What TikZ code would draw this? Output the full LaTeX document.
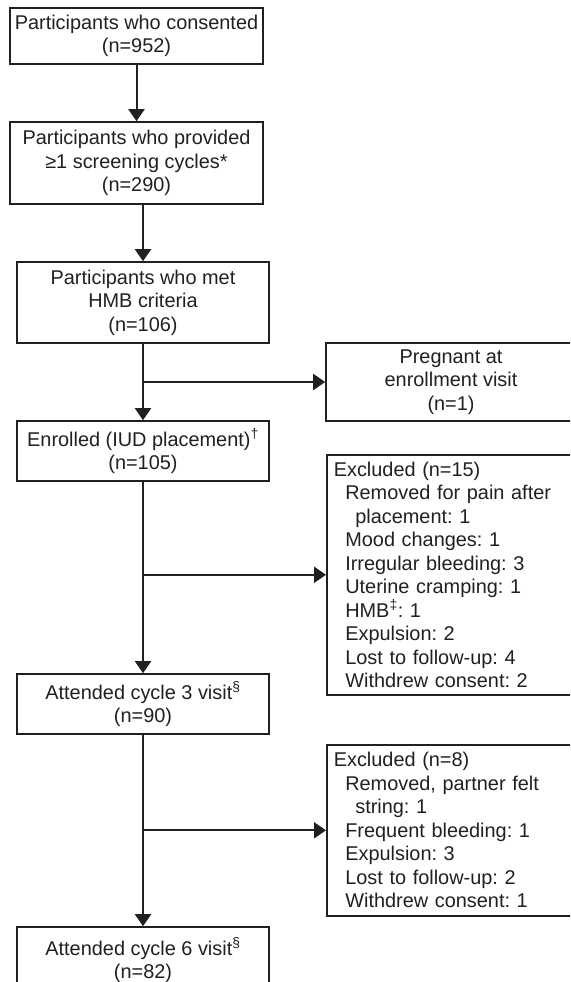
\documentclass[tikz,border=0pt]{standalone}
\usepackage{fontspec}
\setmainfont{Liberation Sans}
\usetikzlibrary{arrows.meta,calc}
\definecolor{ink}{HTML}{231F20}
\newcommand\boxfont{\fontsize{19.9}{23.5}\selectfont\frenchspacing}
\begin{document}
\begin{tikzpicture}[x=1pt,y=-1pt,
  box/.style={draw=ink, line width=1.6pt, text=ink, font=\boxfont, align=center, inner sep=0pt},
  exbox/.style={draw=ink, line width=1.6pt, text=ink, font=\boxfont, align=left,
    inner xsep=7pt, inner ysep=0pt, anchor=north west, text width=236pt},
  arr/.style={draw=ink, line width=2pt, -{Triangle[width=16pt,length=12pt]}}]
\useasboundingbox (0,0) rectangle (570,982);
\clip (0,0) rectangle (570,982);
% main column
\node[box, minimum width=253pt, minimum height=56pt] (b1) at (136.5,36)
  {Participants who consented\\(n=952)};
\node[box, minimum width=253pt, minimum height=82pt] (b2) at (136.5,163)
  {Participants who provided\\≥1 screening cycles*\\(n=290)};
\node[box, minimum width=252pt, minimum height=81pt] (b3) at (143,302.5)
  {Participants who met\\HMB criteria\\(n=106)};
\node[box, minimum width=252pt, minimum height=60pt] (b4) at (143,451)
  {Enrolled (IUD placement)\textsuperscript{†}\\(n=105)};
\node[box, minimum width=252pt, minimum height=60pt] (b5) at (143,704)
  {Attended cycle 3 visit\textsuperscript{§}\\(n=90)};
\node[box, minimum width=252pt, minimum height=66pt] (b6) at (143,960)
  {Attended cycle 6 visit\textsuperscript{§}\\(n=82)};
% side boxes
\node[box, minimum width=250pt, minimum height=78.5pt] (p) at (451,382)
  {Pregnant at\\enrollment visit\\(n=1)};
\node[exbox, minimum height=240pt] (e1) at (326,454)
  {Excluded (n=15)\\
   \hspace*{11.5pt}Removed for pain after\\
   \hspace*{21.5pt}placement: 1\\
   \hspace*{11.5pt}Mood changes: 1\\
   \hspace*{11.5pt}Irregular bleeding: 3\\
   \hspace*{11.5pt}Uterine cramping: 1\\
   \hspace*{11.5pt}HMB\textsuperscript{‡}: 1\\
   \hspace*{11.5pt}Expulsion: 2\\
   \hspace*{11.5pt}Lost to follow-up: 4\\
   \hspace*{11.5pt}Withdrew consent: 2};
\node[exbox, minimum height=171pt] (e2) at (326,744)
  {Excluded (n=8)\\
   \hspace*{11.5pt}Removed, partner felt\\
   \hspace*{21.5pt}string: 1\\
   \hspace*{11.5pt}Frequent bleeding: 1\\
   \hspace*{11.5pt}Expulsion: 3\\
   \hspace*{11.5pt}Lost to follow-up: 2\\
   \hspace*{11.5pt}Withdrew consent: 1};
% connectors
\draw[arr] (b1) -- (b2);
\draw[arr] (b2.south -| b3.north) -- (b3.north);
\draw[arr] (b3) -- (b4);
\draw[arr] (b4) -- (b5);
\draw[arr] (b5) -- (b6);
\draw[arr] (b3.south |- p.west) -- (p.west);
\draw[arr] (b4.south |- e1.west) -- (e1.west);
\draw[arr] (b5.south |- e2.west) -- (e2.west);
\end{tikzpicture}
\end{document}
